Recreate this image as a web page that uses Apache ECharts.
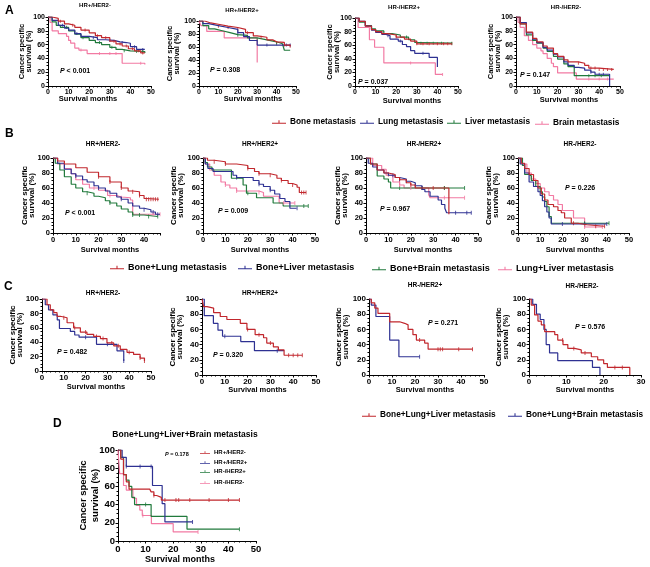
<!DOCTYPE html>
<html><head><meta charset="utf-8">
<script src="https://cdn.jsdelivr.net/npm/echarts@6/dist/echarts.min.js"></script>
<style>html,body{margin:0;padding:0;background:#fff}#c{width:650px;height:567px}</style>
</head><body><div id="c"></div>
<script>
// ---------------- DATA (time in months, survival in %) ----------------
const yTicks = [0, 20, 40, 60, 80, 100];
const xTicks50 = [0, 10, 20, 30, 40, 50];
const xTicks30 = [0, 10, 20, 30];

// Panel A
const A1_bone  = [[0,100],[2,98],[5,94],[8,90],[10,88],[13,85],[16,81],[20,77],[23,73],[26,70],[30,65],[33,61],[36,58],[39,54],[42,51],[45,48],[47,47]];
const A1_lung  = [[0,100],[2,95],[5,88],[8,84],[10,81],[13,76],[16,72],[20,70],[24,67],[28,66],[32,64],[35,63],[38,62],[40,57],[43,53],[47,52]];
const A1_liver = [[0,100],[2,93],[4,88],[6,85],[10,80],[13,75],[16,70],[20,66],[23,63],[26,60],[30,56],[33,53],[36,51],[40,50],[47,48]];
const A1_brain = [[0,100],[1,92],[2,80],[5,76],[9,72],[10,66],[11,62],[13,55],[15,52],[19,47],[36,33],[47,31]];
const A1_bone_c = [6,12,18,24,28,32,35,38,41,44,46];
const A1_lung_c = [7,14,22,30,36,42,46];
const A1_liver_c = [9,17,25,31,37,43,46];
const A1_brain_c = [16,25,30,33,45];

const A2_bone  = [[0,100],[3,97],[6,95],[10,92],[15,90],[20,87],[24,82],[28,77],[30,75],[35,71],[38,68],[40,67],[44,63],[47,61]];
const A2_lung  = [[0,100],[2,96],[5,93],[10,90],[15,87],[20,82],[23,76],[26,70],[30,63],[47,63]];
const A2_liver = [[0,100],[2,93],[5,88],[8,85],[12,82],[16,79],[20,78],[25,74],[30,71],[35,68],[40,65],[43,63],[44,55],[47,55]];
const A2_brain = [[0,100],[1,93],[4,84],[13,74],[30,36]];
const A2_bone_c = [10,15,20,25,32,40,44,47];
const A2_lung_c = [20,35,45,47];
const A2_liver_c = [20,30,40];
const A2_brain_c = [];

const A3_bone  = [[0,100],[2,95],[5,88],[8,83],[10,80],[13,77],[16,75],[20,72],[24,69],[27,66],[30,62],[47,62]];
const A3_lung  = [[0,100],[2,95],[5,88],[8,82],[10,79],[13,76],[15,74],[17,69],[21,66],[23,61],[25,58],[27,52],[29,48],[36,42],[40,28]];
const A3_liver = [[0,100],[2,94],[5,89],[8,84],[10,81],[14,77],[18,75],[22,72],[26,68],[29,64],[31,63],[47,63]];
const A3_brain = [[0,100],[1.5,86],[7,68],[9.5,57],[14,34],[39,17],[42.5,17]];
const A3_bone_c = [20,30,33,36,40,43,45,47];
const A3_lung_c = [16,22,33];
const A3_liver_c = [25,32,35,38,42,47];
const A3_brain_c = [27,42.5];

const A4_bone  = [[0,100],[2,90],[5,78],[8,69],[10,64],[13,58],[15,55],[18,47],[20,43],[23,38],[25,35],[30,33],[33,30],[35,26],[40,24],[47,24]];
const A4_lung  = [[0,100],[2,92],[5,77],[8,68],[10,63],[13,56],[15,52],[18,46],[20,42],[23,35],[25,30],[28,27],[30,26],[33,23],[36,20],[38,17],[45,0]];
const A4_liver = [[0,100],[2,90],[5,74],[8,66],[10,62],[13,55],[15,50],[18,43],[20,39],[23,32],[25,28],[28,15],[45,15]];
const A4_brain = [[0,100],[1,92],[2,85],[4,73],[6,66],[8,60],[10,55],[12,51],[13,47],[15,40],[17,33],[18,28],[20,19],[29,10],[47,10]];
const A4_bone_c = [30,36,38,40,42,44,46];
const A4_lung_c = [36,40,42];
const A4_liver_c = [35,38,41];
const A4_brain_c = [35,40,44];

// Panel B
const B1_bl  = [[0,100],[2,96],[5,92],[10,87],[15,81],[20,75],[25,68],[30,60],[33,56],[35,55],[38,50],[40,46],[41,45],[46.5,45]];
const B1_bli = [[0,100],[2,93],[5,85],[8,79],[10,76],[13,71],[15,68],[18,63],[20,60],[23,56],[25,53],[28,48],[30,45],[33,40],[35,36],[38,33],[40,31],[43,28],[45,25],[47,25]];
const B1_bb  = [[0,100],[1,93],[3,84],[5,75],[8,65],[10,60],[13,55],[15,53],[18,49],[20,47],[23,43],[25,40],[28,36],[30,32],[33,28],[35,24],[40,22],[46,22]];
const B1_ll  = [[0,100],[2,92],[5,86],[8,79],[10,71],[13,65],[16,60],[20,57],[24,50],[28,48],[30,47],[34,44],[35,25],[47,25]];
const B1_bl_c = [20,25,30,35,38,41,42,43,44,45,46];
const B1_bli_c = [10,20,30,40,44,46];
const B1_bb_c = [15,25,35,38,42,46];
const B1_ll_c = [18,25,30,44,47];

const B2_bl  = [[0,100],[2,97],[5,95],[10,92],[15,90],[20,86],[23,82],[25,79],[30,77],[33,73],[35,70],[38,66],[40,64],[42,61],[43,54],[46,54]];
const B2_bli = [[0,100],[1,92],[2.2,86],[4.5,82],[13.4,77],[15,74],[22.4,70],[25,65],[27,62],[30,57],[32,52],[34.3,46],[36.6,42],[38.8,33],[41.8,33]];
const B2_bb  = [[0,100],[1,94],[2,88],[4,84],[12.7,73],[17.9,64],[19.4,53],[23.9,47],[31.3,40],[35.8,36],[47,36]];
const B2_ll  = [[0,100],[1,92],[3,84],[5,77],[8,68],[10,64],[12,60],[15,56],[25,54],[27,49],[34,40],[41,40]];
const B2_bl_c = [5,10,20,25,30,35,40,44,45,46];
const B2_bli_c = [15,25,30,42];
const B2_bb_c = [20,45,47];
const B2_ll_c = [10,15,25,36,41];

const B3_bl  = [[0,100],[2,92],[5,84],[8,80],[10,78],[13,74],[15,71],[18,67],[20,64],[22,60],[37,25]];
const B3_bli = [[0,100],[1,93],[3,88],[5,84],[8,80],[10,77],[13,74],[15,72],[18,69],[20,67],[22,63],[25,58],[26.3,55],[28.6,49],[32.2,44],[33.7,38],[35.2,33],[36,27],[47,27]];
const B3_bb  = [[0,100],[2,92],[5,76],[8,72],[10,68],[11,60],[44,60]];
const B3_ll  = [[0,100],[3,90],[7,85],[9,77],[12,68],[15,64],[17,60],[28,51],[28.6,47],[44,47]];
const B3_bl_c = [10,15,20,25,30,35];
const B3_bli_c = [12,15,18,22,40,45,47];
const B3_bb_c = [15,25,35,44];
const B3_ll_c = [15,20,35,44];

const B4_bl  = [[0,100],[1.5,93],[3,86],[5,78],[7,70],[9,60],[10.5,52],[12,44],[13.5,38],[16,35],[18,30],[19.5,27],[21,20],[24,13],[27,11],[31,9],[39,9]];
const B4_bli = [[0,100],[1,92],[3,80],[5,68],[7,62],[9,55],[10,50],[11,43],[12,35],[13,28],[14,20],[15,12],[40,12]];
const B4_bb  = [[0,100],[2,90],[3,78],[5,76],[6,70],[8,62],[10,55],[11,48],[12,42],[13,35],[14,22],[15,13],[41,13]];
const B4_ll  = [[0,100],[2,92],[4,80],[6,72],[8,66],[10,60],[12,55],[14,50],[16,44],[18,38],[20,30],[25,20],[30,8],[38,8]];
const B4_bl_c = [25,30,35,39];
const B4_bli_c = [20,30,40];
const B4_bb_c = [30,41];
const B4_ll_c = [30,38];

// Panel C
const C1_bll = [[0,100],[2.3,92],[3.8,85],[5.4,81],[6.9,76],[8.4,74],[11.5,67],[14.5,60],[17.6,54],[20.6,51],[23.7,48],[26.8,45],[29.8,39],[32.9,35],[35.9,30],[39,26],[42,23],[45,18],[47,14]];
const C1_blb = [[0,100],[1.5,92],[3,85],[5,78],[7,71],[8,59],[13,55],[15,50],[17,47],[25,37],[34.4,28],[37.5,14]];
const C1_bll_c = [10,15,20,25,28,32,35,40,45,47];
const C1_blb_c = [20,30,37.5];

const C2_bll = [[0,100],[0.7,90],[2.2,88],[5.1,82],[8,77],[10.9,73],[16.8,68],[19.7,60],[23.3,53],[27,49],[28.4,42],[31.3,37],[33.5,33],[36,26],[44,26]];
const C2_blb = [[0,100],[1,78],[5,68],[7,59],[9,51],[17,44],[23,32],[36,32]];
const C2_bll_c = [20,25,30,38,40,42,44];
const C2_blb_c = [10,33];

const C3_bll = [[0,100],[1,95],[2.5,88],[3.9,81],[9,70],[13.3,68],[15.5,66],[17,60],[19.1,53],[20.6,46],[24.2,42],[25.7,34],[45,34]];
const C3_blb = [[0,100],[1,92],[3,77],[9,46],[13,24],[22,24]];
const C3_bll_c = [22,30,31,32,39,45];
const C3_blb_c = [22];

const C4_bll = [[0,100],[0.6,92],[1.5,79],[2.4,71],[3.3,66],[4.2,57],[6.9,53],[7.7,46],[9.1,40],[10.4,35],[12.2,33],[14,29],[16.7,24],[18.4,20],[20,15],[21,10],[27,0]];
const C4_blb = [[0,100],[1,93],[2,80],[3,73],[4,60],[4.6,40],[5.5,29],[7.7,19],[17,10],[19,0]];
const C4_bll_c = [9,12,15,23,25];
const C4_blb_c = [];

// Panel D
const D_hrpn = [[0,100],[1,90],[2,73],[3,65],[4,57],[11.5,57],[12,54],[13,50],[14,48],[15.7,45],[44,45]];
const D_hrpp = [[0,100],[1.5,92],[3,82],[12.5,61],[16,41],[17,21],[27,21]];
const D_hrnp = [[0,100],[1,92],[2,73],[3,67],[4,60],[5,48],[6,40],[12,27],[25,13],[44,13]];
const D_hrnn = [[0,100],[0.6,74],[2,61],[3,56],[5.4,47],[6.7,39],[7.9,34],[8.8,28],[12.1,19],[20,10],[29,10]];
const D_hrpn_c = [13,17,21,22,26,33,40,44];
const D_hrpp_c = [3,8,12,27];
const D_hrnp_c = [10,44];
const D_hrnn_c = [9,29];

const pValues = {A1:'< 0.001',A2:'= 0.308',A3:'= 0.037',A4:'= 0.147',B1:'< 0.001',B2:'= 0.009',B3:'= 0.967',B4:'= 0.226',C1:'= 0.482',C2:'= 0.320',C3:'= 0.271',C4:'= 0.576',D:'= 0.178'};

// ---------------- STYLE / LAYOUT ----------------
const RED='#c1272d', BLUE='#2e3192', GREEN='#217a3c', PINK='#f27aa3';
const FONT='"Liberation Sans", Arial, sans-serif';
const NA=['Bone metastasis','Lung metastasis','Liver metastasis','Brain metastasis'];
const NB=['Bone+Lung metastasis','Bone+Liver metastasis','Bone+Brain metastasis','Lung+Liver metastasis'];
const NC=['Bone+Lung+Liver metastasis','Bone+Lung+Brain metastasis'];
const ND=['HR+/HER2-','HR+/HER2+','HR-/HER2+','HR-/HER2-'];
const COLS=[RED,BLUE,GREEN,PINK];

const SZ = {
  A:{tick:7,  ax:7.5, ay:7.5, lh:7,  title:6,   p:7},
  B:{tick:7.5,ax:7.5, ay:8,   lh:7,  title:6.5, p:7},
  C:{tick:8,  ax:7.5, ay:8,   lh:7,  title:6.5, p:7},
  D:{tick:9.5,ax:9,   ay:9.5, lh:12, title:8.5, p:5.5}
};

const panels = [
 {id:'A1',row:'A',g:[48,17,103,69],xMax:50,ty:25,xt:[88,99],tt:['HR+/HER2-',95,5],p:[60,71],
  s:[[NA[0],A1_bone,A1_bone_c],[NA[1],A1_lung,A1_lung_c],[NA[2],A1_liver,A1_liver_c],[NA[3],A1_brain,A1_brain_c]]},
 {id:'A2',row:'A',g:[199,21,97,65],xMax:50,ty:173.5,xt:[253,99],tt:['HR+/HER2+',242,10],p:[210,70],
  s:[[NA[0],A2_bone,A2_bone_c],[NA[1],A2_lung,A2_lung_c],[NA[2],A2_liver,A2_liver_c],[NA[3],A2_brain,A2_brain_c]]},
 {id:'A3',row:'A',g:[355,18,103,68],xMax:50,ty:333.5,xt:[412,101],tt:['HR-/HER2+',404,7],p:[358,82],
  s:[[NA[0],A3_bone,A3_bone_c],[NA[1],A3_lung,A3_lung_c],[NA[2],A3_liver,A3_liver_c],[NA[3],A3_brain,A3_brain_c]]},
 {id:'A4',row:'A',g:[516,17,104,69],xMax:50,ty:494,xt:[569,100],tt:['HR-/HER2-',566,7],p:[520,75],
  s:[[NA[0],A4_bone,A4_bone_c],[NA[1],A4_lung,A4_lung_c],[NA[2],A4_liver,A4_liver_c],[NA[3],A4_brain,A4_brain_c]]},
 {id:'B1',row:'B',g:[53,158,107,75],xMax:47,ty:28.3,xt:[110,250],tt:['HR+/HER2-',103,144],p:[65,213],
  s:[[NB[0],B1_bl,B1_bl_c],[NB[1],B1_bli,B1_bli_c],[NB[2],B1_bb,B1_bb_c],[NB[3],B1_ll,B1_ll_c]]},
 {id:'B2',row:'B',g:[203,158,112,75],xMax:50,ty:177,xt:[260,250],tt:['HR+/HER2+',260,144],p:[218,211],
  s:[[NB[0],B2_bl,B2_bl_c],[NB[1],B2_bli,B2_bli_c],[NB[2],B2_bb,B2_bb_c],[NB[3],B2_ll,B2_ll_c]]},
 {id:'B3',row:'B',g:[366,158,112,75],xMax:50,ty:341,xt:[423,250],tt:['HR-/HER2+',424,144],p:[380,209],
  s:[[NB[0],B3_bl,B3_bl_c],[NB[1],B3_bli,B3_bli_c],[NB[2],B3_bb,B3_bb_c],[NB[3],B3_ll,B3_ll_c]]},
 {id:'B4',row:'B',g:[518,158,111,75],xMax:50,ty:492,xt:[575,250],tt:['HR-/HER2-',580,144],p:[565,188],
  s:[[NB[0],B4_bl,B4_bl_c],[NB[1],B4_bli,B4_bli_c],[NB[2],B4_bb,B4_bb_c],[NB[3],B4_ll,B4_ll_c]]},
 {id:'C1',row:'C',g:[42,299,109,72],xMax:50,ty:16.7,xt:[96,387],tt:['HR+/HER2-',103,293],p:[57,352],
  s:[[NC[0],C1_bll,C1_bll_c],[NC[1],C1_blb,C1_blb_c]]},
 {id:'C2',row:'C',g:[202,299,114,76],xMax:50,ty:176,xt:[257.5,390],tt:['HR+/HER2+',260,293],p:[213,355],
  s:[[NC[0],C2_bll,C2_bll_c],[NC[1],C2_blb,C2_blb_c]]},
 {id:'C3',row:'C',g:[369,299,115,76],xMax:50,ty:342,xt:[425,390],tt:['HR-/HER2+',425,285],p:[428,323],
  s:[[NC[0],C3_bll,C3_bll_c],[NC[1],C3_blb,C3_blb_c]]},
 {id:'C4',row:'C',g:[529,299,112,76],xMax:30,ty:502.5,xt:[585,390],tt:['HR-/HER2-',582,286],p:[575,327],
  s:[[NC[0],C4_bll,C4_bll_c],[NC[1],C4_blb,C4_blb_c]]},
 {id:'D',row:'D',g:[118,450,138,91],xMax:50,ty:89.5,xt:[180,560],tt:['Bone+Lung+Liver+Brain metastasis',185,435],p:[165,454],
  s:[[ND[0],D_hrpn,D_hrpn_c],[ND[1],D_hrpp,D_hrpp_c],[ND[2],D_hrnp,D_hrnp_c],[ND[3],D_hrnn,D_hrnn_c]]}
];

const legendItems = [
 [NA[0],272,122,8.3],[NA[1],360,122,8.3],[NA[2],447,122,8.3],[NA[3],535,123,8.3],
 [NB[0],110,267,9],[NB[1],238,267,9],[NB[2],372,268,9],[NB[3],498,268,9],
 [NC[0],362,415,8.3],[NC[1],508,415,8.3],
 [ND[0],200,453,6],[ND[1],200,463,6],[ND[2],200,472,6],[ND[3],200,483,6]
];
const panelLetters = [['A',5,11],['B',5,134],['C',4,287],['D',53,424]];

// ---------------- BUILD ----------------
function survAt(curve, t){ let v = curve[0][1]; for (const pt of curve){ if (pt[0] <= t) v = pt[1]; } return v; }
function T(text, x, y, size, extra){
  return Object.assign({type:'text', x:x, y:y, silent:true,
    style:{text:text, fill:'#000', fontSize:size, fontWeight:'bold', fontFamily:FONT,
      textAlign:'center', textVerticalAlign:'middle', align:'center', verticalAlign:'middle'}}, extra||{});
}
const grid=[], xAxis=[], yAxis=[], series=[], graphic=[], legend=[];
panels.forEach((p,i)=>{
  const sz = SZ[p.row];
  grid.push({left:p.g[0], top:p.g[1], width:p.g[2], height:p.g[3]});
  const axCommon = {gridIndex:i, type:'value', splitLine:{show:false},
    axisLine:{show:true, onZero:false, lineStyle:{color:'#000', width:1}},
    axisTick:{show:true, length:2.5, lineStyle:{color:'#000', width:1}},
    axisLabel:{margin:3, color:'#000', fontSize:sz.tick, fontWeight:'bold', fontFamily:FONT}};
  xAxis.push(Object.assign({}, axCommon, {min:0, max:p.xMax, interval:10,
    minorTick:{show:true, splitNumber:5, length:1.5, lineStyle:{color:'#000'}},
    axisLabel:Object.assign({}, axCommon.axisLabel, {showMaxLabel: p.xMax % 10 === 0})}));
  yAxis.push(Object.assign({}, axCommon, {min:0, max:100, interval:20,
    minorTick:{show:true, splitNumber:4, length:1.5, lineStyle:{color:'#000'}}}));
  p.s.forEach((s,k)=>{
    const col = COLS[k];
    series.push({type:'line', name:s[0], xAxisIndex:i, yAxisIndex:i, data:s[1], step:'end',
      showSymbol:false, symbol:'none', silent:true, animation:false, z:3+(3-k),
      itemStyle:{color:col}, lineStyle:{color:col, width:1.2}});
    if (s[2].length) series.push({type:'scatter', name:s[0], xAxisIndex:i, yAxisIndex:i,
      data:s[2].map(t=>[t, survAt(s[1], t)]), symbol:'rect', symbolSize:[1, p.row==='A'?3:4],
      silent:true, animation:false, itemStyle:{color:col}, z:4});
  });
  const cy = p.g[1] + p.g[3]/2;
  const yt = T('Cancer specific\nsurvival (%)', p.ty, cy, sz.ay, {rotation:Math.PI/2});
  yt.style.lineHeight = sz.lh;
  graphic.push(yt);
  graphic.push(T('Survival months', p.xt[0], p.xt[1], sz.ax));
  graphic.push(T(p.tt[0], p.tt[1], p.tt[2], sz.title));
  graphic.push({type:'text', x:p.p[0], y:p.p[1], silent:true, style:{
    text:'{i|P} ' + pValues[p.id], fill:'#000', fontSize:sz.p, fontWeight:'bold', fontFamily:FONT,
    textVerticalAlign:'middle', verticalAlign:'middle',
    rich:{i:{fontStyle:'italic', fontWeight:'bold', fontSize:sz.p, fontFamily:FONT, fill:'#000'}}}});
});
panelLetters.forEach(l=>{
  const t = T(l[0], l[1], l[2], 12);
  t.style.textAlign='left'; t.style.align='left';
  graphic.push(t);
});

legendItems.forEach(li=>{
  const big = li[3] > 7;
  const ih = big ? 6 : 5;
  legend.push({data:[li[0]], left:li[1], top:li[2]-ih/2-1, itemWidth: big ? 14 : 10, itemHeight:ih, padding:0,
    icon:'path://M0,4.5H20V6H0Z M9.25,1H10.75V4.5H9.25Z', selectedMode:false,
    textStyle:{fontSize:li[3], fontWeight:'bold', fontFamily:FONT, color:'#000', padding:[0,0,0,-1]}});
});

const chart = echarts.init(document.getElementById('c'), null, {renderer:'canvas'});
chart.setOption({animation:false, backgroundColor:'#fff', grid, xAxis, yAxis, series, graphic, legend});
</script></body></html>
